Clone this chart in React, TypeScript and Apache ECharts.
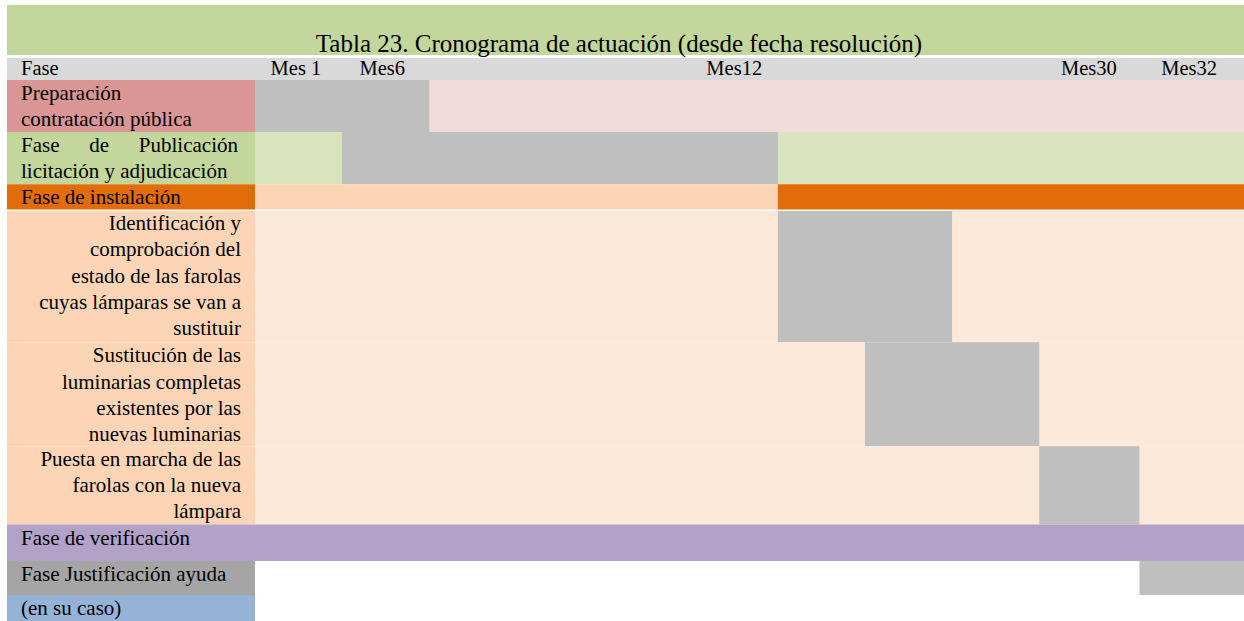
import React, { useEffect, useRef } from "react";
import * as echarts from "echarts";

// ---------- data ----------
const titleText = "Tabla 23. Cronograma de actuación (desde fecha resolución)";
const headerFirst = "Fase";
const headerLabels = ["Mes 1", "Mes6", "Mes12", "Mes30", "Mes32"];
const headerSlots = [0.47, 1.46, 5.5, 9.57, 10.72];

const rowLabels: string[][] = [
  ["Preparación", "contratación pública"],
  ["Fase de Publicación", "licitación y adjudicación"],
  ["Fase de instalación"],
  ["Identificación y", "comprobación del", "estado de las farolas", "cuyas lámparas se van a", "sustituir"],
  ["Sustitución de las", "luminarias completas", "existentes por las", "nuevas luminarias"],
  ["Puesta en marcha de las", "farolas con la nueva", "lámpara"],
  ["Fase de verificación"],
  ["Fase Justificación ayuda"],
  ["(en su caso)"],
];
const rowLines = [2, 2, 1, 5.06, 3.98, 3, 1.4, 1.3, 1];
const barStart = [0, 1, 6, 6, 7, 9, -1, 10.15, -1];
const barEnd = [2, 6, 11.35, 8, 9, 10.15, -1, 11.35, -1];
const slotMax = 11.35;
const headerLines = 0.84;

// ---------- styles ----------
const labelFill = ["#d99694", "#c3d69b", "#e36c0a", "#fbd5b5", "#fbd5b5", "#fbd5b5", "#b2a2c7", "#a5a5a5", "#95b3d7"];
const rowFill = ["#f2dcdb", "#d7e4bd", "#fbd5b5", "#fde9d9", "#fde9d9", "#fde9d9", "#b2a2c7", "", ""];
const barFill = ["#bfbfbf", "#bfbfbf", "#e36c0a", "#bfbfbf", "#bfbfbf", "#bfbfbf", "", "#bfbfbf", ""];
const labelAlign = ["left", "justify", "left", "right", "right", "right", "left", "left", "left"];
const whiteTop = [0, 0, 0, 1, 0, 0, 0, 0, 0];

const FONT = '"Liberation Serif", "Times New Roman", serif';
const TEXT = "#000000";
const LABEL_SIZE = 21;
const HEADER_SIZE = 20.5;

let ctx: CanvasRenderingContext2D | null = null;
function measure(t: string, size: number): number {
  if (!ctx) ctx = document.createElement("canvas").getContext("2d");
  if (!ctx) return t.length * size * 0.45;
  ctx.font = `${size}px ${FONT}`;
  return ctx.measureText(t).width;
}

export default function App() {
  const ref = useRef<HTMLDivElement>(null);
  useEffect(() => {
    if (!ref.current) return;
    const chart = echarts.init(ref.current, null, { renderer: "svg" });

    const rowTops: number[] = [];
    let acc = headerLines;
    rowLines.forEach((l) => {
      rowTops.push(acc);
      acc += l;
    });
    const yMax = acc;

    const rowData = rowLabels.map((_, i) => [i, rowTops[i], rowTops[i] + rowLines[i], barStart[i], barEnd[i]]);

    const option: any = {
      animation: false,
      grid: [
        { left: 7, top: 58, width: 248, bottom: 0 },
        { left: 255, top: 58, right: 0, bottom: 0 },
      ],
      xAxis: [
        { gridIndex: 0, type: "value", min: 0, max: 1, show: false },
        { gridIndex: 1, type: "value", min: 0, max: slotMax, show: false },
      ],
      yAxis: [
        { gridIndex: 0, type: "value", min: 0, max: yMax, inverse: true, show: false },
        { gridIndex: 1, type: "value", min: 0, max: yMax, inverse: true, show: false },
      ],
      graphic: [
        { type: "rect", left: 7, top: 5, shape: { width: 1237, height: 50 }, style: { fill: "#c3d69b" } },
        {
          type: "text",
          x: 619,
          y: 43,
          style: { text: titleText, fill: TEXT, fontSize: 25, fontFamily: FONT, align: "center", verticalAlign: "middle" },
        },
      ],
      series: [
        // label column header
        {
          type: "custom",
          xAxisIndex: 0,
          yAxisIndex: 0,
          data: [[0, 0]],
          encode: { x: 0, y: 1 },
          renderItem: (params: any, api: any) => {
            const p0 = api.coord([0, 0]);
            const p1 = api.coord([1, headerLines]);
            return {
              type: "group",
              children: [
                { type: "rect", shape: { x: p0[0], y: p0[1], width: p1[0] - p0[0], height: p1[1] - p0[1] }, style: { fill: "#d9d9d9" } },
                {
                  type: "text",
                  x: p0[0] + 14,
                  y: (p0[1] + p1[1]) / 2 - 0.5,
                  style: { text: headerFirst, fill: TEXT, fontSize: HEADER_SIZE, fontFamily: FONT, align: "left", verticalAlign: "middle" },
                },
              ],
            };
          },
        },
        // data header background
        {
          type: "custom",
          xAxisIndex: 1,
          yAxisIndex: 1,
          data: [[0, 0]],
          encode: { x: 0, y: 1 },
          renderItem: (params: any, api: any) => {
            const p0 = api.coord([0, 0]);
            const p1 = api.coord([slotMax, headerLines]);
            return { type: "rect", shape: { x: p0[0], y: p0[1], width: p1[0] - p0[0], height: p1[1] - p0[1] }, style: { fill: "#d9d9d9" } };
          },
        },
        // header month labels
        {
          type: "custom",
          xAxisIndex: 1,
          yAxisIndex: 1,
          z: 5,
          data: headerLabels.map((t, k) => [headerSlots[k], headerLines / 2, k]),
          encode: { x: 0, y: 1 },
          renderItem: (params: any, api: any) => {
            const p = api.coord([api.value(0), api.value(1)]);
            return {
              type: "text",
              x: p[0],
              y: p[1] - 0.5,
              style: { text: headerLabels[api.value(2)], fill: TEXT, fontSize: HEADER_SIZE, fontFamily: FONT, align: "center", verticalAlign: "middle" },
            };
          },
        },
        // label cells
        {
          type: "custom",
          xAxisIndex: 0,
          yAxisIndex: 0,
          data: rowData,
          encode: { x: -1, y: 1 },
          renderItem: (params: any, api: any) => {
            const i = api.value(0);
            const p0 = api.coord([0, api.value(1)]);
            const p1 = api.coord([1, api.value(2)]);
            const lineH = api.size([0, 1])[1];
            const left = p0[0] + 14;
            const right = p1[0] - 14;
            const children: any[] = [
              { type: "rect", shape: { x: p0[0], y: p0[1], width: p1[0] - p0[0], height: p1[1] - p0[1] }, style: { fill: labelFill[i] } },
            ];
            const lines = rowLabels[i];
            lines.forEach((line, j) => {
              const cy = p0[1] + lineH / 2 + j * lineH;
              const align = labelAlign[i];
              if (align === "justify" && j < lines.length - 1) {
                const words = line.split(" ");
                const widths = words.map((w) => measure(w, LABEL_SIZE));
                const total = widths.reduce((a, b) => a + b, 0);
                const jr = right - 3;
                const gap = words.length > 1 ? (jr - left - total) / (words.length - 1) : 0;
                let x = left;
                words.forEach((w, k) => {
                  children.push({
                    type: "text",
                    x,
                    y: cy,
                    style: { text: w, fill: TEXT, fontSize: LABEL_SIZE, fontFamily: FONT, align: "left", verticalAlign: "middle" },
                  });
                  x += widths[k] + gap;
                });
              } else {
                const isRight = align === "right";
                children.push({
                  type: "text",
                  x: isRight ? right : left,
                  y: cy,
                  style: { text: line, fill: TEXT, fontSize: LABEL_SIZE, fontFamily: FONT, align: isRight ? "right" : "left", verticalAlign: "middle" },
                });
              }
            });
            if (whiteTop[i]) {
              children.push({ type: "line", shape: { x1: p0[0], y1: p0[1], x2: p1[0], y2: p0[1] }, style: { stroke: "#ffffff", lineWidth: 1.5 } });
            }
            return { type: "group", children };
          },
        },
        // data rows and bars
        {
          type: "custom",
          xAxisIndex: 1,
          yAxisIndex: 1,
          data: rowData,
          encode: { x: 0, y: 1 },
          renderItem: (params: any, api: any) => {
            const i = api.value(0);
            const top = api.value(1);
            const bottom = api.value(2);
            const s = api.value(3);
            const e = api.value(4);
            const p0 = api.coord([0, top]);
            const p1 = api.coord([slotMax, bottom]);
            const children: any[] = [];
            if (rowFill[i]) {
              children.push({ type: "rect", shape: { x: p0[0], y: p0[1], width: p1[0] - p0[0], height: p1[1] - p0[1] }, style: { fill: rowFill[i] } });
            }
            if (barFill[i] && s >= 0) {
              const b0 = api.coord([s, top]);
              const b1 = api.coord([e, bottom]);
              children.push({ type: "rect", shape: { x: b0[0], y: b0[1], width: b1[0] - b0[0], height: b1[1] - b0[1] }, style: { fill: barFill[i] } });
            }
            if (whiteTop[i]) {
              children.push({ type: "line", shape: { x1: p0[0], y1: p0[1], x2: p1[0], y2: p0[1] }, style: { stroke: "#ffffff", lineWidth: 1.5 } });
            }
            return { type: "group", children };
          },
        },
      ],
    };
    chart.setOption(option);
    return () => chart.dispose();
  }, []);
  return (
    <div
      ref={ref}
      style={{ position: "fixed", left: 0, top: 0, width: 1244, height: 621, background: "#ffffff" }}
    />
  );
}
